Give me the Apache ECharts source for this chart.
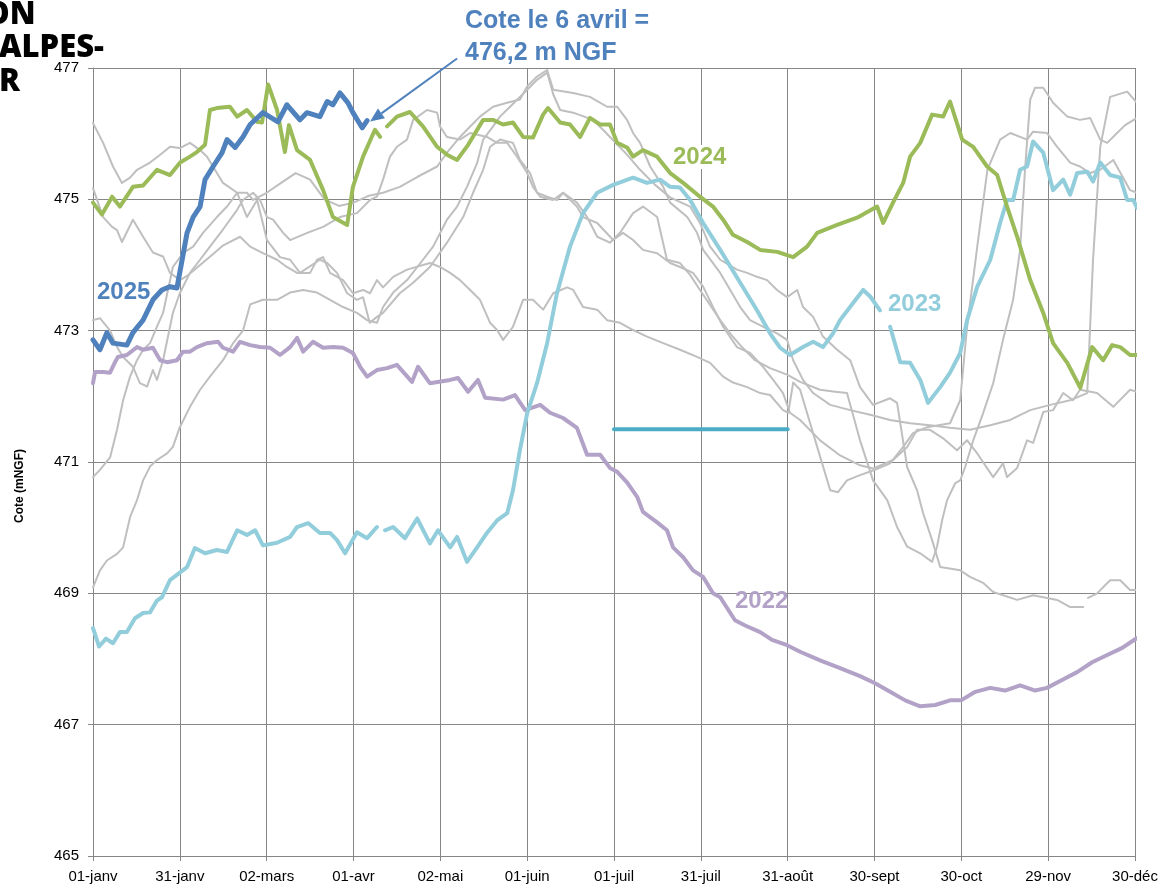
<!DOCTYPE html>
<html>
<head>
<meta charset="utf-8">
<script src="https://cdn.jsdelivr.net/npm/echarts@6.0.0/dist/echarts.min.js"></script>
<style>
	html, body { margin: 0; padding: 0; background: #fff; }
	#chart { width: 1163px; height: 885px; }
</style>
</head>
<body>
<div id="chart"></div>
<script>
// x = day of the year (0 = 01-janv), one axis label every 30 days
var dateLabels = [ '01-janv', '31-janv', '02-mars', '01-avr', '02-mai', '01-juin',
		'01-juil', '31-juil', '31-août', '30-sept', '30-oct', '29-nov', '30-déc' ];

var yTicks = [ 465, 467, 469, 471, 473, 475, 477 ];

// reference band (teal segment) 01-juil -> 31-août
var refLevel = [ [ 180, 471.5 ], [ 240, 471.5 ] ];

var year2025 = [ [0,472.86],[2.4,472.71],[4.8,472.97],[6.9,472.81],[11.7,472.78],[13.8,472.97],
		[17.3,473.16],[20.7,473.47],[23.8,473.62],[26.6,473.67],[29,473.65],[30.8,474.08],
		[32.5,474.49],[34.6,474.73],[37,474.89],[38.7,475.3],[41.5,475.5],[44.6,475.71],
		[46.3,475.91],[49.1,475.79],[51.8,475.95],[54.3,476.14],[58.7,476.32],[63.9,476.18],
		[67,476.44],[71.5,476.21],[73.9,476.32],[78.4,476.26],[80.9,476.49],[82.9,476.44],
		[85.3,476.62],[88.1,476.47],[89.8,476.32],[93,476.09],[94.7,476.2] ];

var year2024 = [ [0,474.95],[3.1,474.77],[6.6,475.04],[9.3,474.89],[13.8,475.19],[17.3,475.21],
		[22.1,475.45],[26.6,475.37],[30.1,475.56],[33.5,475.65],[35.9,475.72],[38.7,475.83],
		[40.4,476.36],[42.8,476.39],[47.3,476.41],[49.8,476.26],[53.2,476.36],[56.7,476.18],
		[58.4,476.17],[60.5,476.75],[63.6,476.36],[66.3,475.72],[67.7,476.13],[70.5,475.75],
		[75,475.6],[79.5,475.14],[82.9,474.73],[87.8,474.61],[89.8,475.19],[93.3,475.65],
		[97.4,476.06],[99.2,475.95],[100.4,'-'],[101.6,476.11],[105,476.26],[109.5,476.33],[114,476.11],
		[118.9,475.8],[122.3,475.68],[125.8,475.6],[129.6,475.83],[134.8,476.21],[138.2,476.21],
		[141.7,476.14],[145.1,476.17],[148.6,475.95],[152,475.94],[155.5,476.29],[157.2,476.39],
		[161.4,476.17],[164.8,476.14],[168.3,475.95],[171.7,476.24],[175.2,476.14],[178.6,476.14],
		[181.1,475.86],[184.5,475.79],[186.6,475.65],[190,475.75],[194.9,475.65],[199.4,475.4],
		[203.9,475.25],[209.7,475.04],[214.2,474.89],[217.7,474.69],[221.1,474.46],[226,474.35],
		[230.5,474.23],[236.4,474.2],[241.9,474.12],[246.7,474.28],[250.2,474.49],[257.1,474.61],
		[264,474.72],[270.9,474.89],[273,474.64],[276.4,474.95],[279.9,475.25],[282.3,475.65],
		[285.8,475.86],[289.9,476.29],[293.7,476.26],[296.1,476.49],[300.3,475.91],[304.1,475.8],
		[308.9,475.5],[312.4,475.37],[315.8,474.89],[319.3,474.43],[323.8,473.77],[328.3,473.27],
		[331.7,472.81],[336.6,472.51],[341.1,472.13],[345.2,472.75],[349,472.55],[352.1,472.78],
		[354.9,472.75],[358.3,472.63],[360.7,472.63] ];

var year2023 = [ [0,468.47],[2.1,468.19],[4.5,468.31],[6.9,468.24],[9.3,468.41],[11.7,468.41],
		[14.5,468.62],[17.3,468.7],[19.7,468.71],[22.1,468.89],[23.8,468.94],[26.6,469.2],
		[32.5,469.4],[35.2,469.69],[38.7,469.61],[42.8,469.66],[46.3,469.63],[49.8,469.96],
		[53.2,469.89],[56,469.96],[58.7,469.73],[63.6,469.77],[68.1,469.86],[70.5,470.01],
		[74.3,470.07],[78.4,469.92],[81.9,469.92],[84.3,469.81],[87.1,469.61],[91.2,469.93],
		[94.7,469.84],[98.1,470.01],[99.4,'-'],[100.9,469.96],[103.7,470.01],[107.8,469.84],[112,470.14],
		[116.4,469.76],[119.2,469.96],[123.4,469.7],[125.8,469.86],[129.2,469.48],[132.7,469.7],
		[136.1,469.92],[139.6,470.11],[143.1,470.22],[145.1,470.57],[147.5,471.18],[150,471.74],
		[153.4,472.2],[156.9,472.81],[160.3,473.57],[164.8,474.28],[169.3,474.79],[174.2,475.1],
		[179.7,475.22],[186.6,475.33],[191.4,475.25],[195.9,475.3],[199.4,475.19],[202.8,475.18],
		[206.3,474.99],[210.8,474.64],[216.7,474.23],[223.6,473.73],[229.4,473.31],[233.9,472.96],
		[237.4,472.74],[240.8,472.63],[245.3,472.75],[248.8,472.83],[252.2,472.75],[255.7,472.96],
		[258.1,473.16],[262.6,473.42],[266.1,473.62],[268.5,473.52],[271.9,473.31],[273.6,'-'],[275.4,473.06],
		[278.9,472.52],[282.3,472.51],[285.8,472.25],[288.5,471.9],[292.7,472.14],[296.1,472.36],
		[299.6,472.66],[302,473.16],[305.5,473.67],[310,474.08],[313.4,474.64],[315.8,474.99],
		[317.9,474.99],[320.3,475.45],[322.7,475.5],[324.8,475.88],[328.3,475.71],[331.7,475.14],
		[335.2,475.3],[337.6,475.07],[340,475.4],[343.5,475.42],[345.5,475.27],[348,475.56],
		[351.4,475.37],[354.9,475.33],[357.3,474.99],[359.4,474.99],[360.7,474.87] ];

var year2022 = [ [0,472.2],[0.7,472.37],[3.5,472.37],[5.9,472.36],[7.6,472.52],[8.6,472.6],
		[11.7,472.63],[15.2,472.75],[17.3,472.71],[20.7,472.74],[23.2,472.55],[25.6,472.52],
		[29,472.55],[31.1,472.68],[33.5,472.68],[35.9,472.75],[39.4,472.81],[43.2,472.83],
		[44.9,472.74],[48.4,472.68],[50.8,472.83],[54.3,472.78],[57.7,472.75],[61.2,472.74],
		[64.6,472.63],[68.1,472.75],[70.5,472.89],[72.6,472.68],[76,472.83],[79.5,472.74],
		[82.9,472.75],[86.4,472.74],[89.8,472.66],[92.3,472.45],[94.7,472.3],[98.1,472.4],
		[101.6,472.43],[105,472.48],[110.2,472.22],[112.3,472.45],[116.4,472.2],[123.4,472.25],
		[126.1,472.28],[129.6,472.07],[133,472.25],[135.5,471.98],[141.7,471.95],[145.8,472.02],
		[149.3,471.79],[154.5,471.87],[157.9,471.75],[162.4,471.67],[167.2,471.52],[170.7,471.11],
		[175.2,471.11],[178.6,470.91],[181.1,470.85],[184.5,470.69],[188,470.47],[190,470.24],
		[194.9,470.08],[198.3,469.96],[200.4,469.7],[203.9,469.55],[207.3,469.35],[210.8,469.25],
		[214.2,469],[216.7,468.94],[221.8,468.59],[225.3,468.51],[230.5,468.41],[234.6,468.29],
		[239.8,468.21],[244.3,468.11],[251.2,467.98],[258.1,467.86],[265,467.74],[270.2,467.63],
		[275.4,467.5],[280.6,467.37],[285.8,467.28],[291,467.3],[296.1,467.37],[299.9,467.37],
		[304.8,467.5],[310,467.56],[315.1,467.52],[320.3,467.6],[325.5,467.52],[329.6,467.56],
		[334.8,467.68],[340,467.8],[345.2,467.95],[350.4,468.06],[355.6,468.17],[360.7,468.32] ];

// earlier years, drawn in grey
var greyA = [ [0,476.16],[3.5,475.86],[6.9,475.5],[10,475.25],[12.8,475.33],[15.2,475.45],[19.7,475.56],
		[23.2,475.68],[26.6,475.8],[30,475.78],[33.5,475.86],[37,475.75],[39.4,475.65],[44.9,475.25],
		[49.8,475.1],[53.2,474.73],[56.7,474.99],[60.1,474.38],[64.6,474.12],[68.1,474.08],[71.5,473.88],
		[78.4,474.08],[80.9,474.03],[84.3,473.88],[87.8,473.57],[91.2,473.47],[93.3,473.51],[95.6,473.12],
		[98.1,473.21],[100.2,473.27],[106,473.57],[110.6,473.73],[116.4,473.97],[122.3,474.34],
		[127.9,474.73],[131.3,475.1],[134.8,475.45],[137.2,475.8],[140.6,475.91],[145.1,475.86],
		[147.5,475.6],[151,475.4],[153.4,475.1],[156.9,475.04],[160.3,474.99],[162.4,475.1],[167.2,474.95],
		[170.7,474.73],[174.2,474.43],[178.6,474.34],[182.1,474.49],[186.6,474.79],[190,474.89],
		[194.9,474.73],[198.3,474.08],[202.8,474.03],[206.3,473.85],[209.7,473.62],[213.2,473.39],
		[216.7,473.16],[220.1,472.96],[223.6,472.78],[228.7,472.55],[233.9,472.43],[239.8,472.33],
		[244.3,472.22],[251.2,472.1],[256.4,472.07],[260.5,472.05],[265,471.33],[269.5,470.72],
		[274.4,470.42],[277.8,470.01],[281.3,469.71],[285.8,469.61],[289.9,469.48],[291.6,469.71],
		[293.4,470.12],[295.1,470.42],[297.9,470.68],[299.6,470.72],[301.3,470.92],[304.1,471.33],
		[307.5,471.74],[311,472.2],[314.4,472.86],[317.9,473.47],[320.3,474.23],[322,475.45],
		[323.8,476.52],[325.5,476.7],[328.3,476.7],[331.7,476.47],[336.6,476.26],[341,476.21],
		[344.5,476.24],[348,475.91],[350.4,475.86],[353.1,475.98],[356.6,476.13],[360.7,476.24] ];

var greyB = [ [0,475.17],[3.5,474.73],[6.6,474.58],[8.3,474.53],[10,474.35],[13.8,474.69],[17.3,474.43],
		[20.7,474.19],[24.2,474.13],[26.6,473.88],[30.1,473.77],[33,473.85],[37,474],[41,474.15],
		[45,474.3],[50.8,474.43],[54.3,474.28],[58.7,474.18],[63.6,474.08],[67,473.97],[70.5,473.88],
		[75,473.88],[77.4,474.08],[79.5,474.12],[81.9,473.88],[86.4,473.77],[89.8,473.57],[93.3,473.62],
		[95.7,473.57],[98.1,473.77],[100.2,473.66],[103.7,473.82],[108.5,473.93],[116.4,474.03],
		[119.9,473.97],[123.4,473.88],[126.8,473.77],[130.3,473.62],[133.7,473.47],[137.2,473.12],
		[139.6,473.01],[141.7,472.86],[145.1,473.06],[148.6,473.47],[152,473.47],[155.5,473.32],
		[159,473.57],[163.8,473.66],[165.9,473.62],[169.3,473.36],[174.2,473.32],[177.6,473.16],
		[182.1,473.12],[186.6,473.01],[191.4,472.91],[197,472.81],[202.8,472.71],[208.7,472.6],
		[213.2,472.51],[217.7,472.3],[221.1,472.21],[226,472.14],[230.5,472.05],[233.9,472.02],
		[238.4,471.79],[240.2,471.75],[241.9,472.21],[244.3,472.1],[250.2,471.23],[254.7,470.57],
		[257.4,470.54],[260.5,470.72],[265,470.8],[269.5,470.87],[275.4,470.98],[279.9,471.23],
		[283.3,471.44],[288.2,471.53],[296.1,471.59],[299.6,471.94],[302,473.06],[305.5,474.28],
		[309,475.45],[313.4,475.91],[316.9,476.01],[322.7,475.91],[324.8,476.03],[329.6,476.01],
		[333.1,475.8],[337.6,475.56],[341,475.5],[344.5,475.4],[348,475.45],[352.5,475.6],
		[358.3,475.14],[360.7,475.1] ];

var greyC = [ [0,473.16],[2.4,473.19],[5.9,473],[8.3,472.75],[10.4,472.6],[13.8,472.45],[16.2,472.2],
		[18.7,472.15],[20.7,472.4],[22.1,472.25],[24.2,472.55],[27.6,473.27],[30,473.57],[33.5,473.88],
		[37,474.08],[40.4,474.28],[44.9,474.54],[49.8,474.84],[51.8,474.99],[55.3,475.1],[57.7,474.99],
		[60.1,474.73],[62.2,474.69],[65.7,474.49],[68.1,474.38],[74,474.49],[79.5,474.58],[85.3,474.73],
		[91.2,474.79],[95.7,474.99],[98.1,475.04],[100.2,475.3],[102.6,475.65],[105,475.8],[108.5,475.91],
		[110.6,476.21],[115.4,476.36],[118.9,476.32],[119.9,476.11],[122.3,475.95],[126.8,475.91],
		[130.3,476.01],[136.1,475.95],[139.6,475.86],[143.1,475.86],[146.5,475.65],[150,475.4],
		[152,475.19],[154.5,475.04],[158.9,474.99],[162.4,475.1],[167.2,474.89],[169.3,474.73],
		[174.2,474.64],[179.7,474.38],[183.1,474.49],[186.6,474.38],[190,474.23],[194.9,474.18],
		[199.4,474.03],[202.8,473.97],[207.3,473.88],[210.8,473.67],[214.2,473.36],[217.7,473.06],
		[222.5,472.75],[227,472.66],[231.5,472.45],[235,472.25],[238.4,472.05],[240.8,471.75],
		[244.3,471.64],[251.2,471.33],[258.1,471.1],[265,470.95],[269.5,470.9],[276.4,471.03],
		[281.3,471.23],[284.7,471.49],[289.2,471.49],[293.7,471.36],[298.5,471.18],[302,471.33],
		[305.5,471.13],[311,470.77],[314.4,470.98],[315.8,470.77],[319.3,470.91],[322.7,471.33],
		[324.8,471.29],[328.3,471.76],[331.7,471.79],[335.2,472.05],[338.6,471.94],[341,472.1],
		[346.9,472.05],[352.5,471.84],[358.3,472.1],[360.7,472.07] ];

var greyD = [ [0,470.77],[2.4,470.88],[5.9,471.07],[8.3,471.49],[10.4,471.94],[12.8,472.3],[15.2,472.55],
		[17.3,472.71],[19.7,472.81],[22.1,473.06],[24.2,473.27],[27.6,473.97],[31.1,474.18],[34.6,474.28],
		[38,474.49],[42.8,474.73],[46.3,474.89],[49.8,475.1],[53.2,475.1],[55.3,474.99],[60,475.1],
		[65,475.25],[70,475.4],[75,475.3],[80,475],[85,474.9],[90,474.95],[95,475.05],[100.2,475.1],
		[106,475.19],[112,475.34],[118.9,475.5],[122.3,475.71],[126.8,475.95],[130.3,476.11],
		[133.7,476.26],[138.2,476.41],[143.1,476.47],[147.5,476.52],[150,476.72],[153.4,476.87],
		[156.9,476.97],[159,476.67],[165.9,476.62],[171.7,476.56],[177.6,476.41],[181.1,476.41],
		[184.5,476.21],[186.6,476.01],[189,475.86],[192.5,475.5],[197,475.19],[199.4,474.95],
		[205.3,474.73],[208.7,474.49],[210.8,474.23],[216.7,473.88],[223.6,473.36],[227,473.16],
		[231.5,473.06],[236.3,472.96],[239.8,472.86],[241.9,472.55],[245.3,472.25],[248.8,472.05],
		[254.7,471.87],[261.6,471.79],[268.5,471.72],[275.4,471.64],[282.3,471.59],[289.2,471.56],
		[296.1,471.52],[303,471.49],[310,471.56],[316.9,471.64],[323.8,471.79],[330.7,471.87],
		[337.6,471.94],[343.5,472.05],[345.5,474.08],[348,475.8],[351.4,476.56],[357.3,476.64],
		[360.7,476.47] ];

var greyE = [ [0,469.09],[2.4,469.35],[4.8,469.5],[8.3,469.6],[10.4,469.7],[12.8,470.16],[15.2,470.42],
		[17.3,470.72],[19.7,470.93],[22.1,471.03],[25.6,471.13],[27.6,471.23],[30,471.53],[33.5,471.84],
		[37,472.1],[40.4,472.3],[44.9,472.55],[48.4,472.81],[51.8,473],[54.3,473.4],[58.7,473.47],
		[63.6,473.47],[68.1,473.58],[72.6,473.62],[77.4,473.58],[81.9,473.47],[86.4,473.36],[91.2,473.27],
		[94.7,473.16],[98.1,473.12],[100.2,473.36],[103.7,473.58],[108.5,473.77],[114,474.08],
		[117.5,474.28],[122.3,474.69],[125.8,474.89],[129.2,475.19],[132.7,475.55],[134.8,475.91],
		[138.2,476.11],[140.6,476.26],[144.1,476.41],[147.5,476.56],[150,476.67],[153.4,476.82],
		[156.9,476.93],[159,476.6],[161.4,476.36],[165.9,476.32],[172.8,476.21],[176.2,476.06],
		[179.7,475.9],[184.5,475.68],[189,475.45],[194.2,475.22],[199.4,475.03],[206.3,474.89],
		[209.7,474.64],[213.2,474.28],[216.7,474.08],[222.5,473.93],[226,473.88],[229.4,473.82],
		[232.9,473.77],[236.3,473.62],[239.8,473.51],[243.3,473.62],[245.3,473.36],[248.8,473.21],
		[252.2,472.91],[257.1,472.71],[261.6,472.55],[265,472.14],[269.5,471.87],[275.4,471.97],
		[277.8,471.9],[281.3,470.92],[284.7,470.57],[286.8,470.22],[289.9,469.81],[292.7,469.4],
		[299.6,469.35],[303,469.25],[307.5,469.16],[311,469.02],[319.3,468.9],[324.8,468.97],
		[328.3,468.94],[333.1,468.9],[337.6,468.79],[342.1,468.79],[343,'-'],[343.8,468.93],[346.9,469],
		[351.4,469.2],[354.9,469.2],[358.3,469.05],[360.7,469.05] ];

var greyYears = [ greyA, greyB, greyC, greyD, greyE ];

var BLUE = '#4F81BD', GREEN = '#9BBB59', LIGHTBLUE = '#92CDDC', PURPLE = '#B3A2C7',
	TEAL = '#4BACC6', GREY = '#BFBFBF', GRID = '#868686';
var FONT = '"Liberation Sans", Arial, sans-serif';

var chart = echarts.init(document.getElementById('chart'));

function lineSerie(name, data, color, width, z) {
	return {
		name : name,
		type : 'line',
		data : data,
		showSymbol : false,
		symbol : 'none',
		silent : true,
		z : z,
		lineStyle : {
			color : color,
			width : width,
			cap : 'round',
			join : 'round'
		}
	};
}

var series = [];
for ( var i in greyYears) {
	series.push(lineSerie('grey' + i, greyYears[i], GREY, 2, 2));
}
series.push(lineSerie('ref', refLevel, TEAL, 4, 3));
series.push(lineSerie('2022', year2022, PURPLE, 4, 4));
series.push(lineSerie('2023', year2023, LIGHTBLUE, 4, 5));
series.push(lineSerie('2024', year2024, GREEN, 4, 6));
series.push(lineSerie('2025', year2025, BLUE, 5, 7));

var option = {
	animation : false,
	backgroundColor : '#fff',
	grid : {
		left : 93,
		right : 28,
		top : 68,
		bottom : 29
	},
	xAxis : {
		type : 'value',
		min : 0,
		max : 360,
		interval : 30,
		axisLine : { lineStyle : { color : GRID, width : 1 } },
		axisTick : { show : true, length : 5, lineStyle : { color : GRID } },
		splitLine : { show : true, lineStyle : { color : GRID, width : 1 } },
		axisLabel : {
			color : '#000',
			fontSize : 15,
			fontFamily : FONT,
			margin : 13,
			formatter : function(v) {
				return dateLabels[Math.round(v / 30)];
			}
		}
	},
	yAxis : {
		type : 'value',
		min : yTicks[0],
		max : yTicks[yTicks.length - 1],
		interval : 2,
		axisLine : { show : true, lineStyle : { color : GRID, width : 1 } },
		axisTick : { show : true, length : 5, lineStyle : { color : GRID } },
		splitLine : { show : true, lineStyle : { color : GRID, width : 1 } },
		axisLabel : {
			color : '#000',
			fontSize : 15,
			fontFamily : FONT,
			margin : 14
		}
	},
	series : series
};
chart.setOption(option);

// annotations: arrow to the last 2025 value, year labels, cropped title
var last = year2025[year2025.length - 1];
var head = chart.convertToPixel({ gridIndex : 0 }, last);
head = [ head[0] + 3, head[1] + 1 ];
var tail = [ head[0] + 87, head[1] - 63 ];
var len = Math.sqrt(87 * 87 + 63 * 63);
var ux = 87 / len, uy = -63 / len;
var base = [ head[0] + ux * 14, head[1] + uy * 14 ];
var nx = -uy, ny = ux;

function label(text, x, y, color, font, bg) {
	var st = {
		text : text,
		fill : color,
		font : font,
		textAlign : 'left',
		textVerticalAlign : 'middle'
	};
	if (bg) {
		st.backgroundColor = '#fff';
		st.padding = [ 0, 2 ];
	}
	return { type : 'text', x : x, y : y, z : 20, style : st };
}

var titleFont = '800 31px "Open Sans", "Liberation Sans", sans-serif';
var yearFont = 'bold 24px ' + FONT;

chart.setOption({
	graphic : [
		label('ON', -15, 15, '#000', titleFont),
		label('ALPES-', -1, 48, '#000', titleFont),
		label('R', -1, 82, '#000', titleFont),
		label('Cote le 6 avril =', 465, 21, BLUE, 'bold 25px ' + FONT),
		label('476,2 m NGF', 465, 53, BLUE, 'bold 25px ' + FONT),
		label('2025', 97, 292, BLUE, yearFont),
		label('2024', 671, 157, GREEN, yearFont, true),
		label('2023', 886, 304, LIGHTBLUE, yearFont, true),
		label('2022', 735, 601, PURPLE, yearFont),
		{
			type : 'text',
			x : 20,
			y : 486,
			rotation : Math.PI / 2,
			style : {
				text : 'Cote (mNGF)',
				fill : '#000',
				font : 'bold 12px ' + FONT,
				textAlign : 'center',
				textVerticalAlign : 'middle'
			}
		},
		{
			type : 'line',
			z : 20,
			shape : { x1 : tail[0], y1 : tail[1], x2 : base[0], y2 : base[1] },
			style : { stroke : BLUE, lineWidth : 2 }
		},
		{
			type : 'polygon',
			z : 20,
			shape : {
				points : [ head, [ base[0] + nx * 6, base[1] + ny * 6 ], [ base[0] - nx * 6, base[1] - ny * 6 ] ]
			},
			style : { fill : BLUE }
		}
	]
});

window.onresize = function() {
	chart.resize();
};
</script>
</body>
</html>
